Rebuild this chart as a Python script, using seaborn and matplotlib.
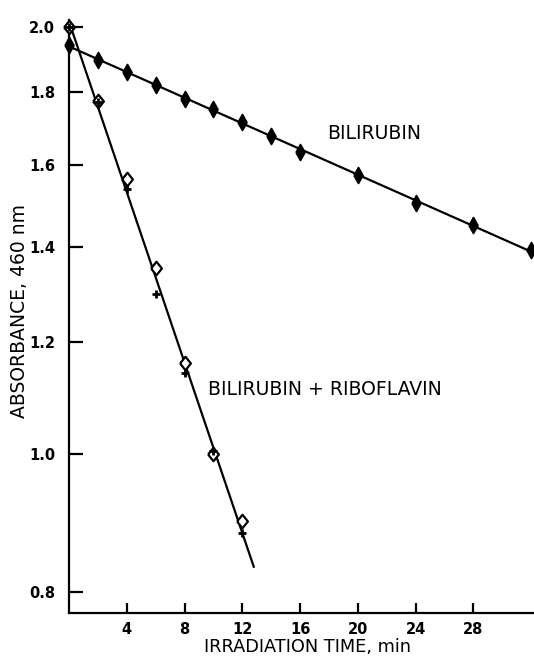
import numpy as np
import pandas as pd
import matplotlib
matplotlib.use("Agg")
import matplotlib.pyplot as plt
import seaborn as sns

# ---- data ----
t_bili = [0, 2, 4, 6, 8, 10, 12, 14, 16, 20, 24, 28, 32]
a_bili = [1.943, 1.896, 1.860, 1.821, 1.779, 1.750, 1.715, 1.676, 1.634,
          1.573, 1.504, 1.451, 1.393]

t_ribo = [0, 2, 4, 6, 8, 10, 12]
a_ribo_diamond = [2.000, 1.775, 1.564, 1.352, 1.160, 1.000, 0.898]
a_ribo_cross = [2.000, 1.770, 1.539, 1.297, 1.141, 1.005, 0.880]

y_ticks = [0.8, 1.0, 1.2, 1.4, 1.6, 1.8, 2.0]
x_ticks = [4, 8, 12, 16, 20, 24, 28]

sns.set_theme(style="ticks")
plt.rcParams["font.family"] = ["DejaVu Sans"]

fig = plt.figure(figsize=(5.34, 6.6), dpi=100)
ax = fig.add_axes([69 / 534, 47 / 660, 465 / 534, 593 / 660])
ax.set_yscale("log")

df_b = pd.DataFrame({"t": t_bili, "a": a_bili})
df_rd = pd.DataFrame({"t": t_ribo, "a": a_ribo_diamond})
df_rc = pd.DataFrame({"t": t_ribo, "a": a_ribo_cross})

# fitted (exponential) lines through the data
pb = np.polyfit(df_b.t, np.log10(df_b.a), 1)
rt = np.concatenate([df_rd.t, df_rc.t])
ra = np.concatenate([df_rd.a, df_rc.a])
pr = np.polyfit(rt, np.log10(ra), 1)
fit_b = pd.DataFrame({"t": [0.0, 32.2]})
fit_b["a"] = 10 ** np.polyval(pb, fit_b.t)
fit_r = pd.DataFrame({"t": [0.0, 12.8]})
fit_r["a"] = 10 ** np.polyval(pr, fit_r.t)

sns.lineplot(data=fit_b, x="t", y="a", ax=ax, color="black", lw=1.6)
sns.lineplot(data=fit_r, x="t", y="a", ax=ax, color="black", lw=1.6)

thin_d = [(-0.28, 0), (0, 0.5), (0.28, 0), (0, -0.5), (-0.28, 0)]
wide_d = [(-0.4, 0), (0, 0.5), (0.4, 0), (0, -0.5), (-0.4, 0)]

sns.scatterplot(data=df_b, x="t", y="a", ax=ax, marker=thin_d, s=130,
                color="black", edgecolor="black", linewidth=1.3, zorder=4,
                clip_on=False)
sns.scatterplot(data=df_rd, x="t", y="a", ax=ax, marker=wide_d, s=95,
                facecolor="white", edgecolor="black", linewidth=1.6, zorder=4,
                clip_on=False)
sns.scatterplot(data=df_rc, x="t", y="a", ax=ax, marker="+", s=40,
                color="black", linewidth=2.0, zorder=5, clip_on=False)

ax.set_xlim(0, 32.2)
ax.set_ylim(0.773, 2.023)
ax.set_xticks(x_ticks)
ax.set_xticklabels([str(v) for v in x_ticks])
ax.set_yticks(y_ticks)
ax.set_yticklabels([f"{v:.1f}" for v in y_ticks])
ax.yaxis.set_minor_locator(matplotlib.ticker.NullLocator())
ax.xaxis.set_minor_locator(matplotlib.ticker.NullLocator())

for s in ["top", "right"]:
    ax.spines[s].set_visible(False)
for s in ["left", "bottom"]:
    ax.spines[s].set_linewidth(1.6)
    ax.spines[s].set_color("black")

ax.tick_params(axis="y", direction="in", length=10, width=1.6, pad=10,
               labelsize=10.5, colors="black")
ax.tick_params(axis="x", direction="in", length=7, width=1.6, pad=6.5,
               labelsize=10.5, colors="black")
for lab in ax.get_xticklabels() + ax.get_yticklabels():
    lab.set_fontweight("bold")

ax.set_xlabel("IRRADIATION TIME, min", fontsize=12.8, color="black")
ax.set_ylabel("ABSORBANCE, 460 nm", fontsize=13.5, color="black")
ax.xaxis.set_label_coords(0.512, -0.043)
ax.yaxis.set_label_coords(-0.085, 0.51)

ax.text(17.9, 1.684, "BILIRUBIN", fontsize=13.6, ha="left", va="center",
        color="black")
ax.text(9.62, 1.110, "BILIRUBIN + RIBOFLAVIN", fontsize=13.6, ha="left",
        va="center", color="black")

fig.savefig("out.png", dpi=100)
